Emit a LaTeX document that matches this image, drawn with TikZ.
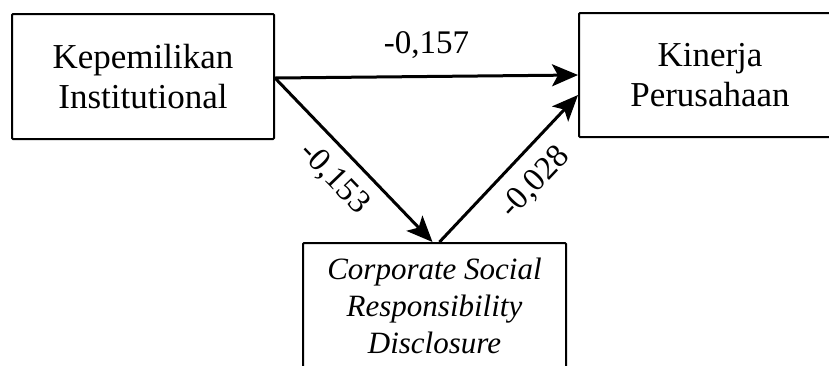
\documentclass[tikz,border=0pt]{standalone}
\usepackage{fontspec}
\setmainfont{Liberation Serif}
\usetikzlibrary{arrows.meta}
\begin{document}
\begin{tikzpicture}[x=1pt,y=-1pt,
  varbox/.style={draw=black, line width=2pt, rounded corners=1pt, minimum width=262pt, inner sep=0pt, align=center, font=\fontsize{35}{40}\selectfont},
  italbox/.style={varbox, font=\fontsize{31}{37}\selectfont\itshape},
  path/.style={line width=3pt, -{Stealth[length=26pt,width=22pt,inset=6pt]}},
  coef/.style={font=\fontsize{33}{36}\selectfont, inner sep=2pt}
]
\useasboundingbox (0,0) rectangle (829,365);
\clip (0,0) rectangle (829,365);
\fill[white] (0,0) rectangle (829,365);

\node[varbox, minimum height=125pt] (ki) at (143,76.5) {Kepemilikan\\Institutional};
\node[varbox, minimum height=124pt] (kp) at (710,75) {Kinerja\\Perusahaan};
\node[italbox, minimum width=263pt, minimum height=126pt] (csr) at (434.5,306) {Corporate Social\\Responsibility\\Disclosure};

\draw[path] ([yshift=-1.5pt]ki.east) -- node[coef, above=14pt] {-0,157} (kp.west);
\draw[path] ([yshift=-1.5pt]ki.east) -- node[coef, sloped, below=10pt, pos=0.5] {-0,153} ([xshift=-2pt]csr.north);
\draw[path] ([xshift=5pt]csr.north) -- node[coef, sloped, below=12pt, pos=0.54] {-0,028} ([yshift=-20pt]kp.west);
\end{tikzpicture}
\end{document}
